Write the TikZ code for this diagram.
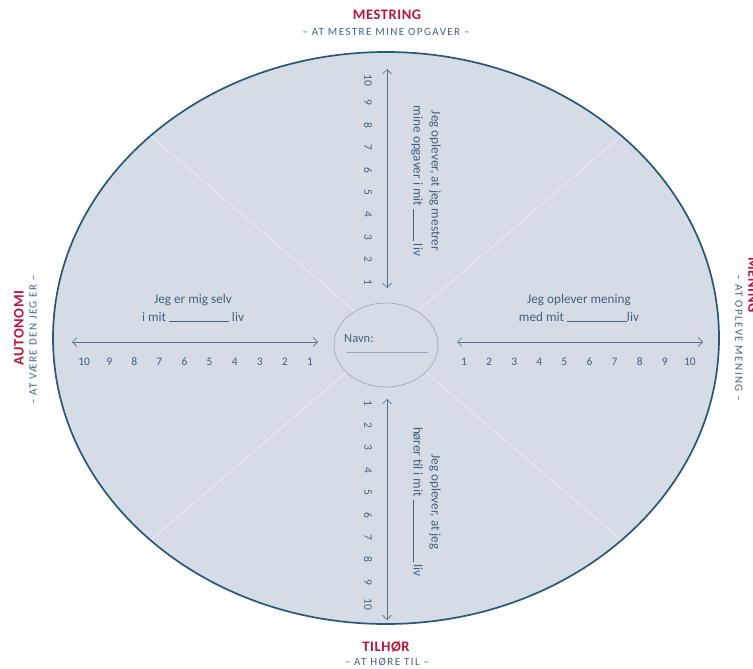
\documentclass[tikz,border=0pt]{standalone}
\usepackage{fontspec}
\setmainfont{Carlito}
\newfontfamily\spacedfont[LetterSpace=13]{Carlito}
\newfontfamily\titlefont[LetterSpace=4]{Carlito}
\usetikzlibrary{arrows.meta,calc}

\definecolor{wheelfill}{RGB}{214,220,229}
\definecolor{wheelrim}{RGB}{40,88,120}
\definecolor{headred}{RGB}{184,20,60}
\definecolor{subblue}{RGB}{68,96,126}
\definecolor{axisblue}{RGB}{86,112,140}
\definecolor{namerim}{RGB}{150,166,182}

\newcommand{\fillin}[1]{\rule[-0.6pt]{#1}{0.5pt}}

\tikzset{
  title/.style={text=headred, font=\titlefont\bfseries\fontsize{14.5}{16}\selectfont, inner sep=0pt},
  subtitle/.style={text=subblue, font=\spacedfont\fontsize{11}{12}\selectfont, inner sep=0pt},
  lbl/.style={text=subblue, font=\fontsize{13.2}{18}\selectfont, align=center, inner sep=0pt},
  tick/.style={text=subblue, font=\fontsize{11.5}{12}\selectfont, inner sep=0pt},
  axis/.style={draw=axisblue, line width=0.7pt, {Straight Barb[length=4.5pt,width=9pt]}-{Straight Barb[length=4.5pt,width=9pt]}},
  divider/.style={draw=white, line width=0.5pt, opacity=0.7},
}

\begin{document}
\begin{tikzpicture}[x=1pt,y=-1pt]
	\useasboundingbox (0,0) rectangle (753,669);
	
	% wheel
	\coordinate (c) at (386,338);
	\fill [wheelfill] (c) ellipse [x radius=333pt, y radius=286pt];
	\foreach \a in {45,135,225,315}
		\draw [divider] (c) -- ++(\a:333pt and 286pt);
	\draw [wheelrim, line width=1.7pt] (c) ellipse [x radius=333pt, y radius=286pt];
	
	% name field
	\coordinate (n) at (386,345);
	\draw [namerim, fill=wheelfill, line width=0.6pt] (n) ellipse [x radius=52pt, y radius=42pt];
	\node [lbl, anchor=west, font=\fontsize{12.5}{14}\selectfont] (navn) at (344,339) {Navn:};
	\coordinate (navnA) at (347,352);
	\coordinate (navnB) at (428,352);
	\draw [namerim, line width=0.6pt] (navnA) -- (navnB);
	
	% headings
	\node [title] (mestring) at (387,15) {MESTRING};
	\node [subtitle] (mestringsub) at (386,32) {– AT MESTRE MINE OPGAVER –};
	\node [title, rotate=90] (autonomi) at (19,328) {AUTONOMI};
	\node [subtitle, rotate=90] (autonomisub) at (33,340) {– AT VÆRE DEN JEG ER –};
	\node [title, rotate=-90] (mening) at (753,285) {MENING};
	\node [subtitle, rotate=-90] (meningsub) at (739,338) {– AT OPLEVE MENING –};
	\node [title] (tilhor) at (386,647) {TILHØR};
	\node [subtitle] (tilhorsub) at (387,662) {– AT HØRE TIL –};
	
	% scales
	\coordinate (lA) at (72,342);
	\coordinate (lB) at (318,342);
	\coordinate (rA) at (457,342);
	\coordinate (rB) at (703,342);
	\coordinate (tA) at (387,69);
	\coordinate (tB) at (387,288);
	\coordinate (bA) at (387,399);
	\coordinate (bB) at (387,620);
	\draw [axis] (lA) -- (lB);
	\draw [axis] (rA) -- (rB);
	\draw [axis] (tA) -- (tB);
	\draw [axis] (bA) -- (bB);
	
	\foreach \n in {1,...,10} {
		\node [tick] (l\n) at ({335.1-25.1*\n},362) {\n};
		\node [tick] (r\n) at ({438.9+25.1*\n},362) {\n};
		\node [tick, rotate=-90] (t\n) at (368,{304.4-22.4*\n}) {\n};
		\node [tick, rotate=-90] (b\n) at (368,{380.6+22.4*\n}) {\n};
	}
	
	% statements
	\node [lbl] (selv) at (193,308) {Jeg er mig selv\\i mit \fillin{60pt} liv};
	\node [lbl] (meningtxt) at (579,308) {Jeg oplever mening\\med mit \fillin{60pt}liv};
	\node [lbl, rotate=-90] (mestrer) at (426,181) {Jeg oplever, at jeg mestrer\\mine opgaver i mit \fillin{32pt} liv};
	\node [lbl, rotate=-90] (horer) at (427,502) {Jeg oplever, at jeg\\hører til i mit \fillin{62pt} liv};
\end{tikzpicture}
\end{document}
